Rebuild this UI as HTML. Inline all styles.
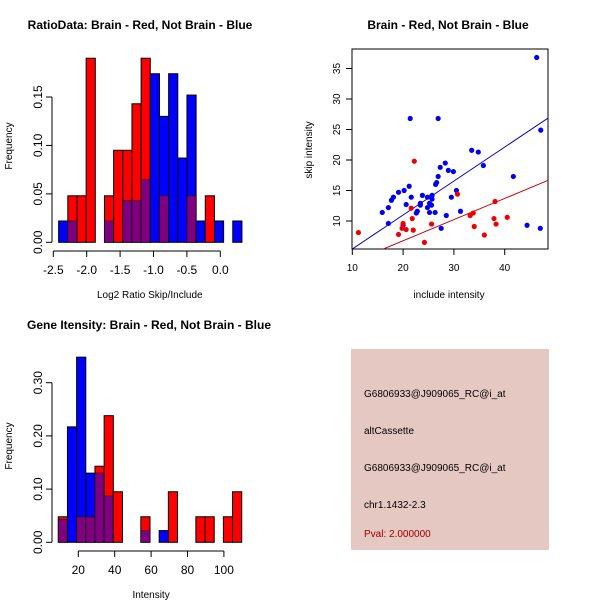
<!DOCTYPE html>
<html><head><meta charset="utf-8"><style>
body{margin:0;background:#fff}
svg{display:block;font-family:"Liberation Sans",sans-serif}
</style></head><body>
<svg id="chart" width="600" height="600" viewBox="0 0 600 600">
<rect x="0" y="0" width="600" height="600" fill="#fff"/>
<g id="p1"></g>
<g id="p2"></g>
<g id="p3"></g>
<g id="p4">
<rect x="351" y="349" width="198" height="201" fill="#e6c8c2"/>
<text x="364" y="397" font-size="10" fill="#000">G6806933@J909065_RC@i_at</text>
<text x="364" y="434" font-size="10" fill="#000">altCassette</text>
<text x="364" y="471" font-size="10" fill="#000">G6806933@J909065_RC@i_at</text>
<text x="364" y="508" font-size="10" fill="#000">chr1.1432-2.3</text>
<text x="364" y="537" font-size="10" fill="#a00000">Pval: 2.000000</text>
</g>
</svg>
<script>
// ---- Histogram 1 data ----
const ratioBinStart = -2.42;
const ratioBinWidth = 0.1372;
const ratioRed  = [0,0.048,0.048,0.19,0,0.048,0.095,0.095,0.143,0.19,0,0.048,0,0,0.048,0,0.048,0,0,0];
const ratioBlue = [0.022,0.022,0,0,0,0.022,0,0.043,0.043,0.065,0.174,0.13,0.174,0.087,0.152,0.022,0,0.022,0,0.022];
const ratioXTicks = [-2.5,-2.0,-1.5,-1.0,-0.5,0.0];
const ratioXTickLabels = ["-2.5","-2.0","-1.5","-1.0","-0.5","0.0"];
const ratioYTicks = [0,0.05,0.10,0.15];
const ratioYTickLabels = ["0.00","0.05","0.10","0.15"];
// ---- Histogram 2 data ----
const intBinStart = 9;
const intBinWidth = 5.04;
const intRed  = [0.048,0,0.048,0.048,0.143,0.238,0.095,0,0,0.048,0,0,0.095,0,0,0.048,0.048,0,0.048,0.095];
const intBlue = [0.043,0.217,0.348,0.13,0.13,0.087,0,0,0,0.022,0,0.022,0,0,0,0,0,0,0,0];
const intXTicks = [20,40,60,80,100];
const intXTickLabels = ["20","40","60","80","100"];
const intYTicks = [0,0.1,0.2,0.3];
const intYTickLabels = ["0.00","0.10","0.20","0.30"];
// ---- Scatter data ----
const blueInclude = [46.3,47.1,21.4,26.9,33.5,34.8,35.8,41.7,44.4,47.0,27.3,28.3,28.9,29.9,26.9,26.6,26.4,30.5,29.5,31.3,28.5,27.5,26.3,25.7,25.7,24.8,23.8,23.4,23.4,22.8,22.6,24.8,25.2,25.6,25.2,21.6,21.2,20.2,19.1,18.1,17.7,17.1,15.9,17.1,20.6,20.0];
const blueSkip    = [36.8,24.9,26.8,26.8,21.6,21.3,19.1,17.3,9.3,8.8,18.8,19.5,18.3,18.1,17.3,16.3,16.0,15.0,13.9,11.6,10.9,8.8,11.4,14.2,13.6,13.9,14.2,12.9,12.6,11.6,11.3,12.2,12.9,12.6,11.4,13.9,15.7,15.0,14.7,13.9,13.4,12.2,11.4,9.6,12.7,9.3];
const redInclude  = [11.2,22.2,30.7,38.1,33.2,33.8,37.9,38.3,40.5,34.0,36.0,21.6,21.8,20.0,19.8,20.6,19.1,22.0,24.2,25.6];
const redSkip     = [8.1,19.8,14.4,13.2,10.9,11.3,10.4,9.5,10.6,9.1,7.7,12.1,10.4,9.6,8.8,8.6,7.8,8.5,6.5,9.5];
const blueFit = [-0.16,0.557];
const redFit  = [-0.18,0.347];
const scXTicks = [10,20,30,40];
const scYTicks = [10,15,20,25,30,35];

const NS="http://www.w3.org/2000/svg";
function mk(parent,tag,attrs){const e=document.createElementNS(NS,tag);for(const k in attrs)e.setAttribute(k,attrs[k]);parent.appendChild(e);return e;}
function txt(parent,x,y,s,size,extra){const e=mk(parent,'text',Object.assign({x:x,y:y,'font-size':size,'text-anchor':'middle',fill:'#000'},extra||{}));e.textContent=s;return e;}

function hist(g,cfg){
  const sx=v=>cfg.x0px+(v-cfg.x0)*cfg.xs, sy=v=>cfg.y0px-v*cfg.ys;
  for(let i=0;i<cfg.red.length;i++){
    const a=cfg.binStart+i*cfg.binW, b=a+cfg.binW;
    const r=cfg.red[i], bl=cfg.blue[i];
    const x=sx(a), w=sx(b)-sx(a);
    const hi=Math.max(r,bl), lo=Math.min(r,bl);
    if(hi>0){
      const e=mk(g,'rect',{x:x,y:sy(hi),width:w,height:sy(0)-sy(hi),fill:r>=bl?'#ff0000':'#0000ff',stroke:'#000','stroke-width':1});
      
      
    }
    if(lo>0){
      const e=mk(g,'rect',{x:x,y:sy(lo),width:w,height:sy(0)-sy(lo),fill:'#7f007f',stroke:'#000','stroke-width':1,'stroke-opacity':0.5});
      
      
    }
  }
  // x axis
  const xa=mk(g,'g',{});
  
  
  const ay=cfg.xAxisY;
  mk(xa,'line',{x1:sx(cfg.xTicks[0]),x2:sx(cfg.xTicks[cfg.xTicks.length-1]),y1:ay,y2:ay,stroke:'#000'});
  cfg.xTicks.forEach((t,i)=>{mk(xa,'line',{x1:sx(t),x2:sx(t),y1:ay,y2:ay+6,stroke:'#000'});txt(xa,sx(t),ay+23,cfg.xLabels[i],12);});
  const ya=mk(g,'g',{});
  
  
  const ax=cfg.yAxisX;
  mk(ya,'line',{x1:ax,x2:ax,y1:sy(cfg.yTicks[0]),y2:sy(cfg.yTicks[cfg.yTicks.length-1]),stroke:'#000'});
  cfg.yTicks.forEach((t,i)=>{mk(ya,'line',{x1:ax-6,x2:ax,y1:sy(t),y2:sy(t),stroke:'#000'});txt(ya,ax-14,sy(t),cfg.yLabels[i],12,{transform:`rotate(-90 ${ax-14} ${sy(t)})`,'dominant-baseline':'auto'}).setAttribute('dy','4');});
  const t=txt(g,cfg.titleX,cfg.titleY,cfg.title,12,{'font-weight':'bold'});
  
  
  const xl=txt(g,sx(cfg.xTicks[0])+(sx(cfg.xTicks[cfg.xTicks.length-1])-sx(cfg.xTicks[0]))/2+cfg.xlabShift,cfg.xlabY,cfg.xlab,10);
  
  
  const yl=txt(g,12,cfg.ylabY,'Frequency',10,{transform:`rotate(-90 12 ${cfg.ylabY})`});
  
  
}

hist(document.getElementById('p1'),{binStart:ratioBinStart,binW:ratioBinWidth,red:ratioRed,blue:ratioBlue,
  x0:-2.5,x0px:53.3,xs:66.8,y0px:242.3,ys:968.7,xAxisY:251,yAxisX:52,
  xTicks:ratioXTicks,xLabels:ratioXTickLabels,yTicks:ratioYTicks,yLabels:ratioYTickLabels,
  title:'RatioData: Brain - Red, Not Brain - Blue',titleX:140,titleY:29,xlab:'Log2 Ratio Skip/Include',xlabShift:13,xlabY:298,ylabY:146});
hist(document.getElementById('p3'),{binStart:intBinStart,binW:intBinWidth,red:intRed,blue:intBlue,
  x0:20,x0px:78.3,xs:1.82,y0px:542.3,ys:532,xAxisY:551,yAxisX:52,
  xTicks:intXTicks,xLabels:intXTickLabels,yTicks:intYTicks,yLabels:intYTickLabels,
  title:'Gene Itensity: Brain - Red, Not Brain - Blue',titleX:149,titleY:329,xlab:'Intensity',xlabShift:0,xlabY:598,ylabY:446});

// scatter
(function(){
  const g=document.getElementById('p2');
  const bx0=352,bx1=548,by0=49,by1=249;
  const sx=v=>352.3+(v-10)*5.08, sy=v=>221-(v-10)*6.1;
  mk(g,'defs',{}).innerHTML='<clipPath id="sc"><rect x="352" y="49" width="196" height="200"/></clipPath>';
  const fr=mk(g,'rect',{x:bx0,y:by0,width:bx1-bx0,height:by1-by0,fill:'none',stroke:'#000'});
  
  
  const lg=mk(g,'g',{'clip-path':'url(#sc)'});
  [[blueFit,'#0000cc','blue-fit-line'],[redFit,'#cc0000','red-fit-line']].forEach(([f,c,n])=>{
    const l=mk(lg,'line',{x1:sx(5),y1:sy(f[0]+f[1]*5),x2:sx(55),y2:sy(f[0]+f[1]*55),stroke:c,'stroke-width':1});
    
    
  });
  blueInclude.forEach((v,i)=>{const c=mk(g,'circle',{cx:sx(v),cy:sy(blueSkip[i]),r:2.6,fill:'#0000ee'});
    
    });
  redInclude.forEach((v,i)=>{const c=mk(g,'circle',{cx:sx(v),cy:sy(redSkip[i]),r:2.6,fill:'#ee0000'});
    
    });
  const xa=mk(g,'g',{});
  
  
  scXTicks.forEach(t=>{mk(xa,'line',{x1:sx(t),x2:sx(t),y1:by1,y2:by1+6,stroke:'#000'});txt(xa,sx(t),by1+22,String(t),10);});
  const ya=mk(g,'g',{});
  
  
  scYTicks.forEach(t=>{mk(ya,'line',{x1:bx0-6,x2:bx0,y1:sy(t),y2:sy(t),stroke:'#000'});txt(ya,bx0-16,sy(t),String(t),10,{transform:`rotate(-90 ${bx0-16} ${sy(t)})`}).setAttribute('dy','4');});
  const t=txt(g,448,29,'Brain - Red, Not Brain - Blue',12,{'font-weight':'bold'});
  
  
  const xl=txt(g,449,298,'include intensity',10);
  
  
  const yl=txt(g,312,150,'skip intensity',10,{transform:'rotate(-90 312 150)'});
  
  
})();
</script>
</body></html>
